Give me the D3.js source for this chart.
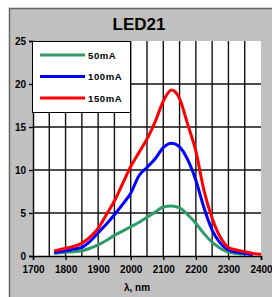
<!DOCTYPE html>
<html><head><meta charset="utf-8">
<script src="https://cdn.jsdelivr.net/npm/d3@7"></script>
<style>html,body{margin:0;padding:0;background:#fff;}svg{display:block;}</style>
</head><body>
<svg id="c" width="272" height="297"></svg>
<script>
const wavelengths = [1765,1800,1825,1850,1875,1900,1925,1950,1975,2000,2025,2050,2075,2100,2125,2150,2175,2200,2225,2250,2275,2300,2325,2350,2375,2400];
const ma50  = [0.3,0.45,0.5,0.6,0.9,1.3,1.8,2.4,2.9,3.4,3.9,4.5,5.1,5.7,5.8,5.6,4.8,3.8,2.6,1.6,0.9,0.45,0.3,0.2,null,null];
const ma100 = [0.4,0.6,0.8,1.0,1.7,2.7,3.7,4.8,6.0,7.3,9.3,10.3,11.3,12.6,13.1,12.7,11.2,8.8,5.6,3.0,1.5,0.7,0.45,0.3,0.15,null];
const ma150 = [0.6,0.9,1.1,1.5,2.2,3.2,4.8,6.4,8.4,10.4,12.0,13.6,15.6,18.0,19.3,18.3,15.3,12.2,7.6,4.4,2.2,1.0,0.7,0.5,0.3,0.2];
const seriesNames = ["50mA","100mA","150mA"];
const seriesColors = ["#2e9b68","#0000ff","#ff0000"];
const xTicks = [1700,1800,1900,2000,2100,2200,2300,2400];
const yTicks = [0,5,10,15,20,25];
const title = "LED21";
const xTitle = "λ, nm";

const svg = d3.select("#c");
const font = "'Liberation Sans', Arial, sans-serif";
// panel
svg.append("rect").attr("x",9.5).attr("y",8.5).attr("width",272).attr("height",300)
  .attr("fill","#c0c0c0").attr("stroke","#666").attr("stroke-width",1.5);

const x = d3.scaleLinear().domain([1700,2400]).range([33,261]);
const y = d3.scaleLinear().domain([0,25]).range([256,41]);

svg.append("rect").attr("x",x(1700)).attr("y",y(25)).attr("width",x(2400)-x(1700)).attr("height",y(0)-y(25)).attr("fill","#fff");

// grid
const g = svg.append("g");
g.selectAll(".vg").data(d3.range(1750,2400,50)).join("line")
  .attr("x1",d=>x(d)).attr("x2",d=>x(d)).attr("y1",y(25)).attr("y2",y(0))
  .attr("stroke","#111").attr("stroke-width",1.4);
g.selectAll(".hg").data([5,10,15,20]).join("line")
  .attr("x1",x(1700)).attr("x2",x(2400)).attr("y1",d=>y(d)).attr("y2",d=>y(d))
  .attr("stroke","#111").attr("stroke-width",1.4);

// axes
const xa = svg.append("g").attr("transform",`translate(0,${y(0)})`)
  .call(d3.axisBottom(x).tickValues(xTicks).tickSize(4).tickFormat(d3.format("d")));
const ya = svg.append("g").attr("transform",`translate(${x(1700)},0)`)
  .call(d3.axisLeft(y).tickValues(yTicks).tickSize(4));
[xa,ya].forEach(a=>{
  a.selectAll("path,line").attr("stroke","#000").attr("stroke-width",1.4);
  a.selectAll("text").attr("font-family",font).attr("font-size",10).attr("fill","#000").attr("font-weight","bold");
});
xa.selectAll("text").attr("dy","1.1em").attr("y",6);
ya.selectAll("text").attr("x",-7);

// lines
const data = [ma50, ma100, ma150];
const line = d3.line().defined(d=>d[1]!==null).x(d=>x(d[0])).y(d=>y(d[1])).curve(d3.curveMonotoneX);
data.forEach((vals,i)=>{
  svg.append("path").datum(wavelengths.map((w,j)=>[w,vals[j]]))
    .attr("d",line).attr("fill","none").attr("stroke",seriesColors[i]).attr("stroke-width",3);
});

// legend
const lg = svg.append("g");
lg.append("rect").attr("x",32.5).attr("y",41.5).attr("width",98).attr("height",71)
  .attr("fill","#fff").attr("stroke","#000").attr("stroke-width",1);
seriesNames.forEach((n,i)=>{
  const yy = 55 + i*21.5;
  lg.append("line").attr("x1",40).attr("x2",85).attr("y1",yy).attr("y2",yy)
    .attr("stroke",seriesColors[i]).attr("stroke-width",3);
  lg.append("text").attr("x",88).attr("y",yy+3.5).text(n)
    .attr("font-family",font).attr("font-size",9.5).attr("font-weight","bold").attr("letter-spacing",0.6);
});

svg.append("text").attr("x",139).attr("y",30).attr("text-anchor","middle")
  .attr("font-family",font).attr("font-size",17).attr("font-weight","bold").text(title);
svg.append("text").attr("x",137).attr("y",291).attr("text-anchor","middle")
  .attr("font-family",font).attr("font-size",10).attr("font-weight","bold").text(xTitle);
</script>
</body></html>
